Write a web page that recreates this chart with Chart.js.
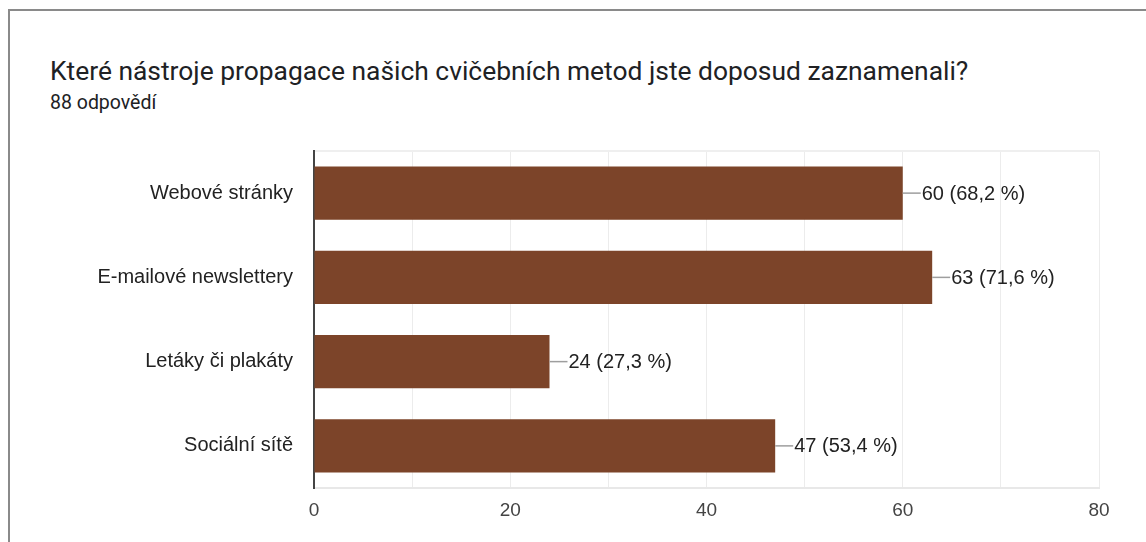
<!DOCTYPE html>
<html lang="cs">
<head>
<meta charset="utf-8">
<title>Nástroje propagace</title>
<script src="https://cdn.jsdelivr.net/npm/chart.js@4/dist/chart.umd.min.js"></script>
<style>
  html, body { margin: 0; padding: 0; background: #fff; overflow: hidden; }
  body { width: 1146px; height: 542px; position: relative; }
  .card {
    position: absolute; left: 8px; top: 9px; width: 1200px; height: 600px;
    border: 2px solid #8a8a8a; box-sizing: border-box;
  }
  .title {
    position: absolute; left: 50px; top: 55px; margin: 0;
    font: 400 26.4px Roboto, "Noto Sans", sans-serif; color: #202124;
    line-height: 32px; white-space: nowrap;
  }
  .sub {
    position: absolute; left: 50px; top: 92px;
    font: 400 19.5px Roboto, "Noto Sans", sans-serif; color: #202124;
    line-height: 22px;
  }
  .wrap { position: absolute; left: 0; top: 118px; width: 1146px; height: 424px; }
</style>
</head>
<body>
<div class="card"></div>
<h1 class="title">Které nástroje propagace našich cvičebních metod jste doposud zaznamenali?</h1>
<div class="sub">88 odpovědí</div>
<div class="wrap"><canvas id="chart"></canvas></div>
<script>
const respondents = 88;
const categories = ['Webové stránky', 'E-mailové newslettery', 'Letáky či plakáty', 'Sociální sítě'];
const counts = [60, 63, 24, 47];
const xTicks = [0, 20, 40, 60, 80];

const BAR_COLOR = '#7c4429';
const FONT_FAMILY = '"Liberation Sans", Arial, sans-serif';

// "60 (68,2 %)" style label at the end of each bar, with a short leader line
const barLabels = {
  id: 'barLabels',
  afterDatasetsDraw(chart) {
    const ctx = chart.ctx;
    const meta = chart.getDatasetMeta(0);
    ctx.save();
    ctx.font = '20px ' + FONT_FAMILY;
    ctx.textBaseline = 'middle';
    ctx.textAlign = 'left';
    meta.data.forEach((bar, i) => {
      const v = counts[i];
      const pct = (v / respondents * 100).toFixed(1).replace('.', ',');
      ctx.strokeStyle = '#9e9e9e';
      ctx.lineWidth = 1.5;
      ctx.beginPath();
      ctx.moveTo(bar.x, bar.y);
      ctx.lineTo(bar.x + 18, bar.y);
      ctx.stroke();
      ctx.fillStyle = '#222';
      ctx.fillText(v + ' (' + pct + ' %)', bar.x + 19, bar.y + 1);
    });
    ctx.restore();
  }
};

new Chart(document.getElementById('chart'), {
  type: 'bar',
  data: {
    labels: categories,
    datasets: [{
      data: counts,
      backgroundColor: BAR_COLOR,
      borderWidth: 0,
      categoryPercentage: 1,
      barPercentage: 0.63
    }]
  },
  options: {
    indexAxis: 'y',
    responsive: true,
    maintainAspectRatio: false,
    animation: false,
    layout: { padding: { left: 0, right: 47, top: 0, bottom: 0 } },
    plugins: { legend: { display: false }, tooltip: { enabled: false } },
    scales: {
      x: {
        min: xTicks[0],
        max: xTicks[xTicks.length - 1],
        afterFit(scale) { scale.height = 54; },
        ticks: {
          stepSize: 10,
          padding: 11,
          color: '#444',
          font: { family: FONT_FAMILY, size: 19 },
          callback: v => xTicks.includes(v) ? String(v) : ''
        },
        grid: { color: '#ececec', lineWidth: 1, drawTicks: false },
        border: { color: '#e8e8e8', width: 2 }
      },
      y: {
        afterFit(scale) { scale.width = 314; },
        ticks: {
          padding: 21,
          color: '#222',
          font: { family: FONT_FAMILY, size: 20 }
        },
        grid: {
          drawTicks: false,
          lineWidth: 2,
          color: c => c.index === 0 ? '#efefef' : 'rgba(0,0,0,0)'
        },
        border: { color: '#444', width: 2 }
      }
    }
  },
  plugins: [barLabels]
});
</script>
</body>
</html>
